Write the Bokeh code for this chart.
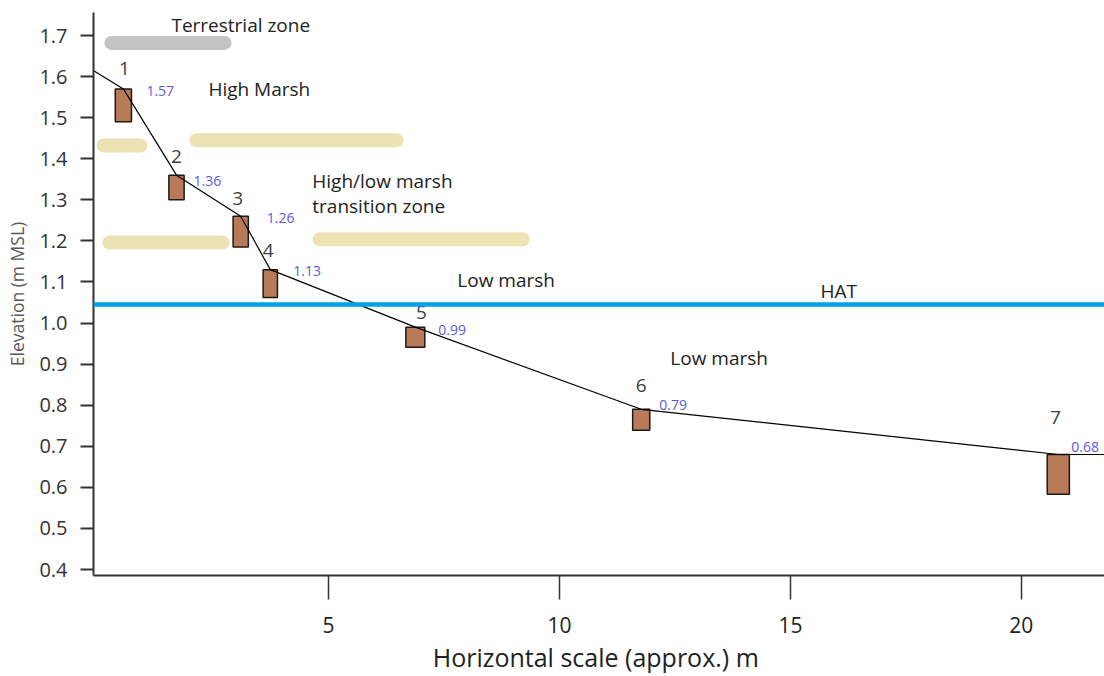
from bokeh.plotting import figure
from bokeh.models import Span, Label, FixedTicker, NumeralTickFormatter, ColumnDataSource, Range1d
from bokeh.core.properties import value
from bokeh.embed import file_html
from bokeh.resources import INLINE

# ---- data ----
point_id = ["1", "2", "3", "4", "5", "6", "7"]
point_x = [0.56, 1.71, 3.10, 3.74, 6.88, 11.77, 20.8]          # horizontal distance (m)
elevation = [1.57, 1.36, 1.26, 1.13, 0.99, 0.79, 0.68]         # m MSL (labelled values)
box_bottom = [1.49, 1.30, 1.185, 1.062, 0.941, 0.739, 0.583]   # lower end of each sample box
elev_label = ["1.57", "1.36", "1.26", "1.13", "0.99", "0.79", "0.68"]

profile_x = [-0.09, 0.56, 1.71, 3.10, 3.74, 6.88, 11.77, 20.8, 21.9]
profile_y = [1.615, 1.57, 1.36, 1.26, 1.13, 0.99, 0.79, 0.68, 0.68]

hat_level = 1.045

# hand-drawn zone boundary strokes
stroke_x0 = [0.30, 0.13, 2.14, 0.26, 4.81]
stroke_x1 = [2.75, 0.93, 6.47, 2.71, 9.20]
stroke_y = [1.682, 1.432, 1.445, 1.196, 1.204]
stroke_color = ["#c4c4c4", "#ede2b4", "#ede2b4", "#ede2b4", "#ede2b4"]

y_ticks = [0.4, 0.5, 0.6, 0.7, 0.8, 0.9, 1.0, 1.1, 1.2, 1.3, 1.4, 1.5, 1.6, 1.7]
x_ticks = [5, 10, 15, 20]
x_title = "Horizontal scale (approx.)  m"
y_title = "Elevation (m MSL)"

# ---- styling ----
box_w = [0.35, 0.33, 0.33, 0.31, 0.41, 0.37, 0.48]
num_dx = [1, 0, -3, -2, 6, 0, -3]
num_dy = [-20, -19, -18, -19, -15, -24, -37]
val_dx = [23, 17, 26, 23, 23, 18, 13]
val_dy = [2, 6, 2, 1, 3, -4, -7]
FONT = "Open Sans"

p = figure(width=1104, height=676, output_backend="svg", toolbar_location=None,
           x_range=Range1d(-0.087, 21.8), y_range=Range1d(0.3854, 1.756),
           min_border_left=93, min_border_right=0, min_border_top=12, min_border_bottom=101)
p.outline_line_color = None
p.xgrid.visible = False
p.ygrid.visible = False
p.background_fill_color = "white"
p.border_fill_color = "white"

# zone strokes
p.segment(x0=stroke_x0, y0=stroke_y, x1=stroke_x1, y1=stroke_y, line_color=stroke_color,
          line_width=14, line_cap="round")

# HAT line
p.add_layout(Span(location=hat_level, dimension="width", line_color="#00a2e8", line_width=4.5))

# boxes
src = ColumnDataSource(dict(x=point_x, top=elevation, bottom=box_bottom, w=box_w,
                            pid=point_id, lab=elev_label,
                            ndx=num_dx, ndy=num_dy, vdx=val_dx, vdy=val_dy))
p.vbar(x="x", top="top", bottom="bottom", width="w", source=src,
       fill_color="#b97a57", line_color="#1a1a1a", line_width=1.5)

# profile line
p.line(profile_x, profile_y, line_color="black", line_width=1.2)

# point numbers and values
p.text(x="x", y="top", text="pid", source=src, text_align="center", text_baseline="middle",
       x_offset="ndx", y_offset="ndy", text_font=value(FONT), text_font_size="19px",
       text_color="#404040")
p.text(x="x", y="top", text="lab", source=src, text_align="left", text_baseline="middle",
       x_offset="vdx", y_offset="vdy", text_font=value(FONT), text_font_size="14px",
       text_color="#5a5ae0")

# zone annotations
annos = [
    ("Terrestrial zone", 1.60, 1.725),
    ("High Marsh", 2.40, 1.569),
    ("High/low marsh", 4.65, 1.345),
    ("transition zone", 4.65, 1.286),
    ("Low marsh", 7.79, 1.104),
    ("HAT", 15.65, 1.077),
    ("Low marsh", 12.40, 0.914),
]
for t, ax, ay in annos:
    p.add_layout(Label(x=ax, y=ay, text=t, text_baseline="middle", text_align="left",
                       text_font=FONT, text_font_size="19px", text_color="#222222"))

# axes
p.yaxis.ticker = FixedTicker(ticks=y_ticks)
p.yaxis.formatter = NumeralTickFormatter(format="0.0")
p.yaxis.axis_label = y_title
p.yaxis.axis_label_text_font = FONT
p.yaxis.axis_label_text_font_size = "17.5px"
p.yaxis.axis_label_text_font_style = "normal"
p.yaxis.axis_label_text_color = "#595959"
p.yaxis.axis_label_standoff = 7
p.yaxis.major_label_text_font = FONT
p.yaxis.major_label_text_font_size = "20px"
p.yaxis.major_label_text_color = "#333333"
p.yaxis.major_label_standoff = 13
p.yaxis.major_tick_out = 13
p.yaxis.major_tick_in = 0
p.yaxis.minor_tick_line_color = None
p.yaxis.major_tick_line_width = 2
p.yaxis.major_tick_line_color = "#333333"
p.yaxis.axis_line_width = 2
p.yaxis.axis_line_color = "#333333"

p.xaxis.ticker = FixedTicker(ticks=x_ticks)
p.xaxis.axis_label = x_title
p.xaxis.axis_label_text_font = FONT
p.xaxis.axis_label_text_font_size = "25px"
p.xaxis.axis_label_text_font_style = "normal"
p.xaxis.axis_label_text_color = "#222222"
p.xaxis.axis_label_standoff = 4
p.xaxis.major_label_text_font = FONT
p.xaxis.major_label_text_font_size = "21px"
p.xaxis.major_label_text_color = "#222222"
p.xaxis.major_label_standoff = 17
p.xaxis.major_tick_out = 24
p.xaxis.major_tick_in = 0
p.xaxis.minor_tick_line_color = None
p.xaxis.major_tick_line_width = 1.5
p.xaxis.major_tick_line_color = "#333333"
p.xaxis.axis_line_width = 2
p.xaxis.axis_line_color = "#333333"

open("out.html", "w").write(file_html(p, INLINE))
